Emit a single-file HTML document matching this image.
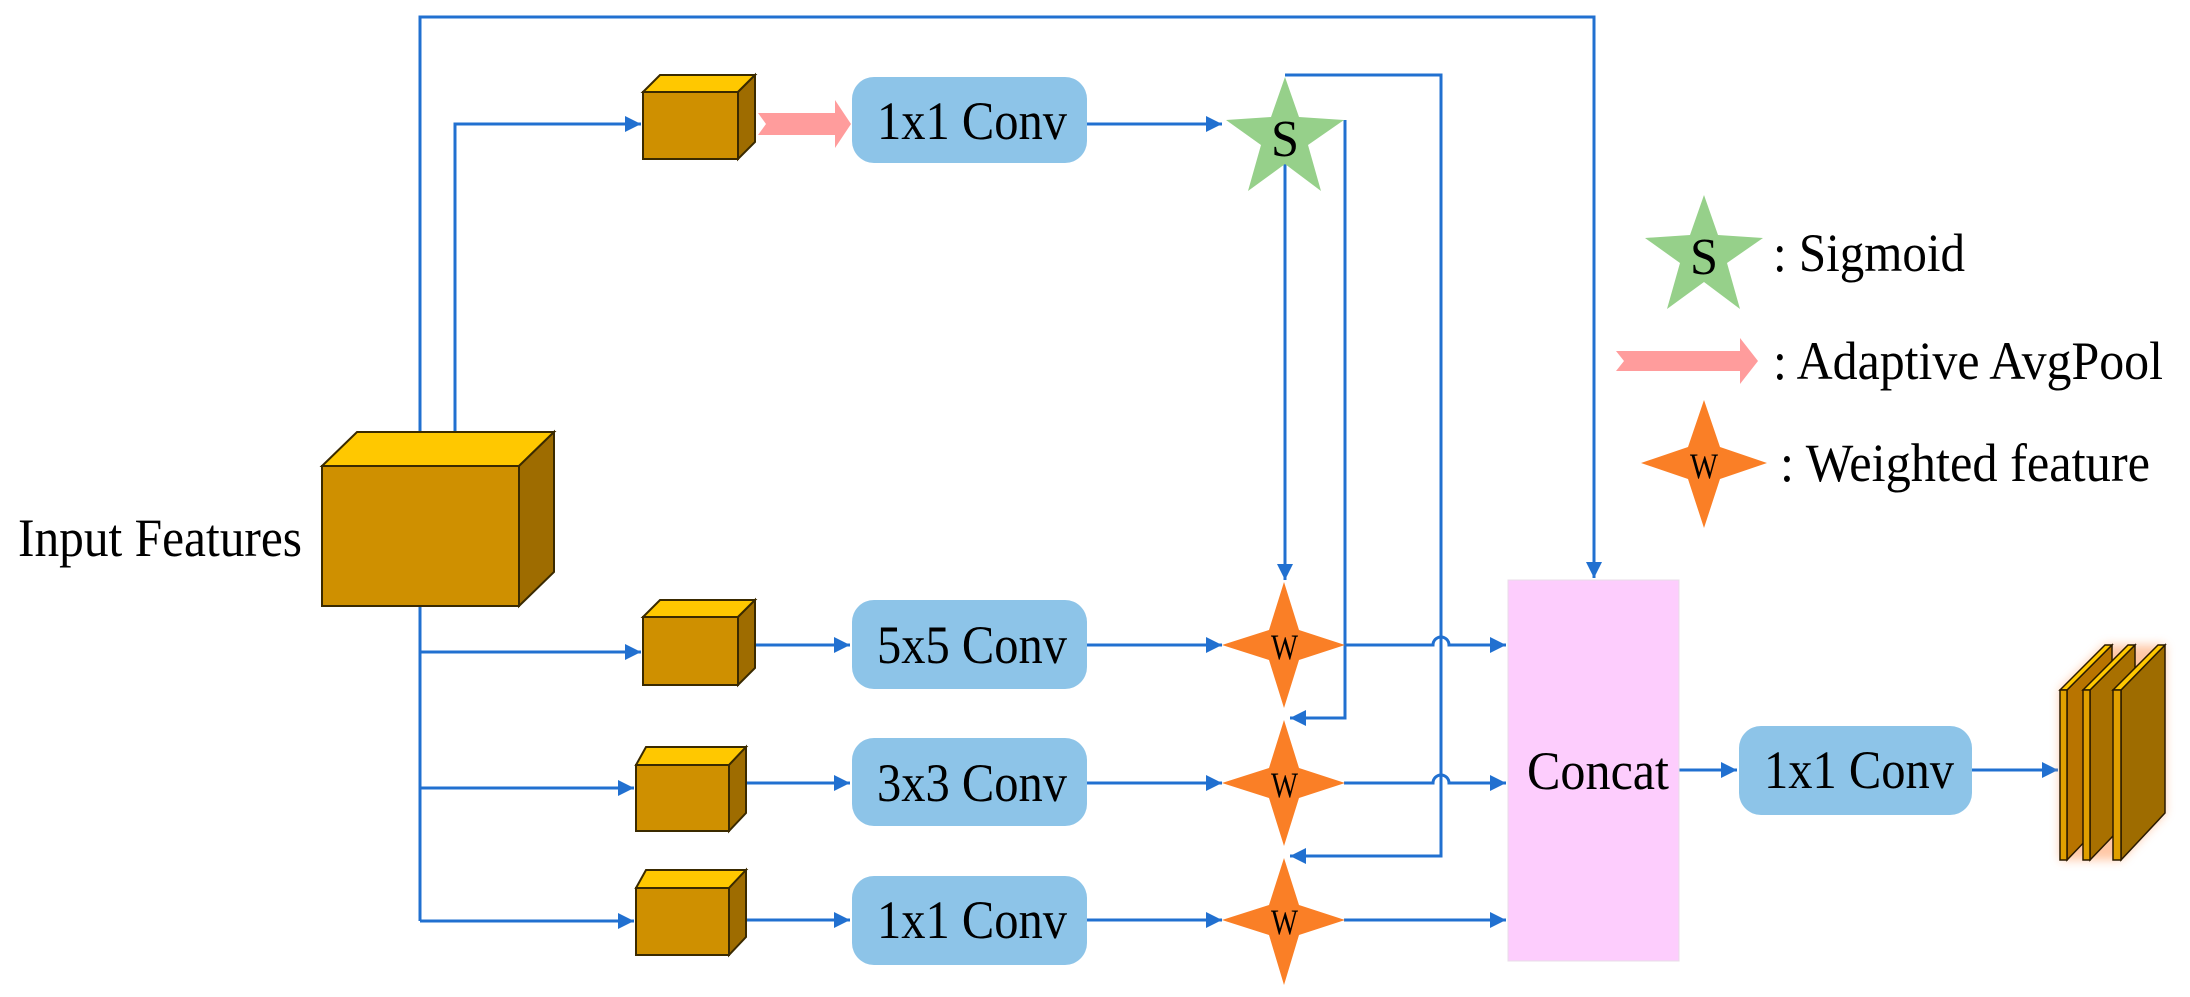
<!DOCTYPE html>
<html><head><meta charset="utf-8"><style>html,body{margin:0;padding:0;background:#fff}svg{display:block}svg text{font-family:"Liberation Serif","Times New Roman","DejaVu Serif",serif}</style></head>
<body>
<svg width="2190" height="997" viewBox="0 0 2190 997" xmlns="http://www.w3.org/2000/svg">
<defs>
<marker id="a2" viewBox="0 0 10 10" refX="10" refY="5" markerWidth="16" markerHeight="22" orient="auto" markerUnits="userSpaceOnUse"><path d="M0,0 L10,5 L0,10 z" fill="#2170d0"/></marker>
<filter id="glow" x="-50%" y="-20%" width="200%" height="140%"><feGaussianBlur stdDeviation="5"/></filter>
</defs>
<g stroke="#2170d0" stroke-width="3" fill="none">
<polyline points="420,466 420,17 1594,17 1594,578" marker-end="url(#a2)"/>
<polyline points="455,432 455,124 641,124" marker-end="url(#a2)"/>
<polyline points="420,606 420,921"/>
<line x1="420" y1="652" x2="641" y2="652" marker-end="url(#a2)"/>
<line x1="420" y1="788" x2="634" y2="788" marker-end="url(#a2)"/>
<line x1="420" y1="921" x2="634" y2="921" marker-end="url(#a2)"/>
<line x1="755" y1="645" x2="850" y2="645" marker-end="url(#a2)"/>
<line x1="746" y1="783" x2="850" y2="783" marker-end="url(#a2)"/>
<line x1="746" y1="920" x2="850" y2="920" marker-end="url(#a2)"/>
<line x1="1087" y1="124" x2="1222" y2="124" marker-end="url(#a2)"/>
<line x1="1087" y1="645" x2="1222" y2="645" marker-end="url(#a2)"/>
<line x1="1087" y1="783" x2="1222" y2="783" marker-end="url(#a2)"/>
<line x1="1087" y1="920" x2="1222" y2="920" marker-end="url(#a2)"/>
<line x1="1285" y1="130" x2="1285" y2="580" marker-end="url(#a2)"/>
<polyline points="1345,120 1345,718 1290,718" marker-end="url(#a2)"/>
<polyline points="1285,75 1441,75 1441,856 1290,856" marker-end="url(#a2)"/>
<path d="M1344,645 H1433 A8,8 0 0 1 1449,645 H1506" marker-end="url(#a2)"/>
<path d="M1344,783 H1433 A8,8 0 0 1 1449,783 H1506" marker-end="url(#a2)"/>
<line x1="1344" y1="920" x2="1506" y2="920" marker-end="url(#a2)"/>
<line x1="1679" y1="770" x2="1737" y2="770" marker-end="url(#a2)"/>
<line x1="1972" y1="770" x2="2058" y2="770" marker-end="url(#a2)"/>
</g>
<g stroke="#3a2a00" stroke-width="2">
<polygon points="322,466 357,432 554,432 519,466" fill="#ffc800"/>
<polygon points="519,466 554,432 554,572 519,606" fill="#9e6c00"/>
<rect x="322" y="466" width="197" height="140" fill="#cf9000"/>
<polygon points="643,92 660,75 755,75 738,92" fill="#ffc800"/>
<polygon points="738,92 755,75 755,142 738,159" fill="#9e6c00"/>
<rect x="643" y="92" width="95" height="67" fill="#cf9000"/>
<polygon points="643,617 660,600 755,600 738,617" fill="#ffc800"/>
<polygon points="738,617 755,600 755,668 738,685" fill="#9e6c00"/>
<rect x="643" y="617" width="95" height="68" fill="#cf9000"/>
<polygon points="636,765 646,747 746,747 729,765" fill="#ffc800"/>
<polygon points="729,765 746,747 746,813 729,831" fill="#9e6c00"/>
<rect x="636" y="765" width="93" height="66" fill="#cf9000"/>
<polygon points="636,888 646,870 746,870 729,888" fill="#ffc800"/>
<polygon points="729,888 746,870 746,937 729,955" fill="#9e6c00"/>
<rect x="636" y="888" width="93" height="67" fill="#cf9000"/>
</g>
<polygon points="758,113 835,113 835,100 851,124 835,148 835,135 758,135 766,124" fill="#ff9c9c"/>
<polygon points="1616,351 1740,351 1740,338 1758,361 1740,384 1740,371 1616,371 1624,361" fill="#ff9c9c"/>
<g fill="#8dc4e8">
<rect x="852" y="77" width="235" height="86" rx="22"/>
<rect x="852" y="600" width="235" height="89" rx="22"/>
<rect x="852" y="738" width="235" height="88" rx="22"/>
<rect x="852" y="876" width="235" height="89" rx="22"/>
<rect x="1739" y="726" width="233" height="89" rx="22"/>
</g>
<rect x="1508" y="580" width="171" height="381" fill="#fdcdfd" stroke="#e8dde8" stroke-width="1"/>
<polygon points="1285,77 1299,117 1344,120 1308,145 1321,191 1285,164 1248,191 1261,145 1226,120 1271,117" fill="#96d08a"/>
<polygon points="1704,195 1718,235 1763,238 1727,263 1740,309 1704,282 1667,309 1680,263 1645,238 1690,235" fill="#96d08a"/>
<g fill="#fa7f26">
<polygon points="1704,400 1720,447 1767,463 1720,479 1704,528 1688,479 1641,463 1688,447"/>
<polygon points="1284,582 1299,630 1345,645 1299,660 1284,708 1269,660 1222,645 1269,630"/>
<polygon points="1284,720 1299,768 1345,783 1299,798 1284,846 1269,798 1222,783 1269,768"/>
<polygon points="1284,858 1299,905 1345,920 1299,935 1284,985 1269,935 1222,920 1269,905"/>
</g>
<g filter="url(#glow)" fill="#ffb080" opacity="0.7">
<polygon points="2060,690 2105,645 2165,645 2165,813 2121,860 2060,860"/>
</g>
<g stroke="#2a1a00" stroke-width="1.5">
<polygon points="2067,690 2112,645 2112,813 2067,860" fill="#b87400"/>
<polygon points="2060,690 2105,645 2112,645 2067,690" fill="#ffc800"/>
<rect x="2060" y="690" width="7" height="170" fill="#e0a000"/>
<polygon points="2090,690 2135,645 2135,813 2090,860" fill="#a87000"/>
<polygon points="2083,690 2128,645 2135,645 2090,690" fill="#ffc800"/>
<rect x="2083" y="690" width="7" height="170" fill="#e0a000"/>
<polygon points="2121,690 2165,645 2165,813 2121,860" fill="#9e6c00"/>
<polygon points="2113,690 2158,645 2165,645 2121,690" fill="#ffc800"/>
<rect x="2113" y="690" width="8" height="170" fill="#e0a000"/>
</g>
<g fill="#000" font-size="54" font-family="Liberation Serif, Times New Roman, DejaVu Serif, serif">
<text x="18" y="556" textLength="284" lengthAdjust="spacingAndGlyphs">Input Features</text>
<text x="877" y="139" textLength="190" lengthAdjust="spacingAndGlyphs">1x1 Conv</text>
<text x="877" y="663" textLength="190" lengthAdjust="spacingAndGlyphs">5x5 Conv</text>
<text x="877" y="801" textLength="190" lengthAdjust="spacingAndGlyphs">3x3 Conv</text>
<text x="877" y="938" textLength="190" lengthAdjust="spacingAndGlyphs">1x1 Conv</text>
<text x="1764" y="788" textLength="190" lengthAdjust="spacingAndGlyphs">1x1 Conv</text>
<text x="1527" y="789" textLength="142" lengthAdjust="spacingAndGlyphs">Concat</text>
<text x="1773" y="271" textLength="192" lengthAdjust="spacingAndGlyphs">: Sigmoid</text>
<text x="1773" y="379" textLength="390" lengthAdjust="spacingAndGlyphs">: Adaptive AvgPool</text>
<text x="1780" y="481" textLength="370" lengthAdjust="spacingAndGlyphs">: Weighted feature</text>
<text x="1271" y="156" font-size="52" textLength="28" lengthAdjust="spacingAndGlyphs">S</text>
<text x="1690" y="274" font-size="52" textLength="28" lengthAdjust="spacingAndGlyphs">S</text>
<text x="1690" y="478" font-size="36" textLength="28" lengthAdjust="spacingAndGlyphs">W</text>
<text x="1271" y="659" font-size="36" textLength="27" lengthAdjust="spacingAndGlyphs">W</text>
<text x="1271" y="797" font-size="36" textLength="27" lengthAdjust="spacingAndGlyphs">W</text>
<text x="1271" y="934" font-size="36" textLength="27" lengthAdjust="spacingAndGlyphs">W</text>
</g>
</svg>
</body></html>
